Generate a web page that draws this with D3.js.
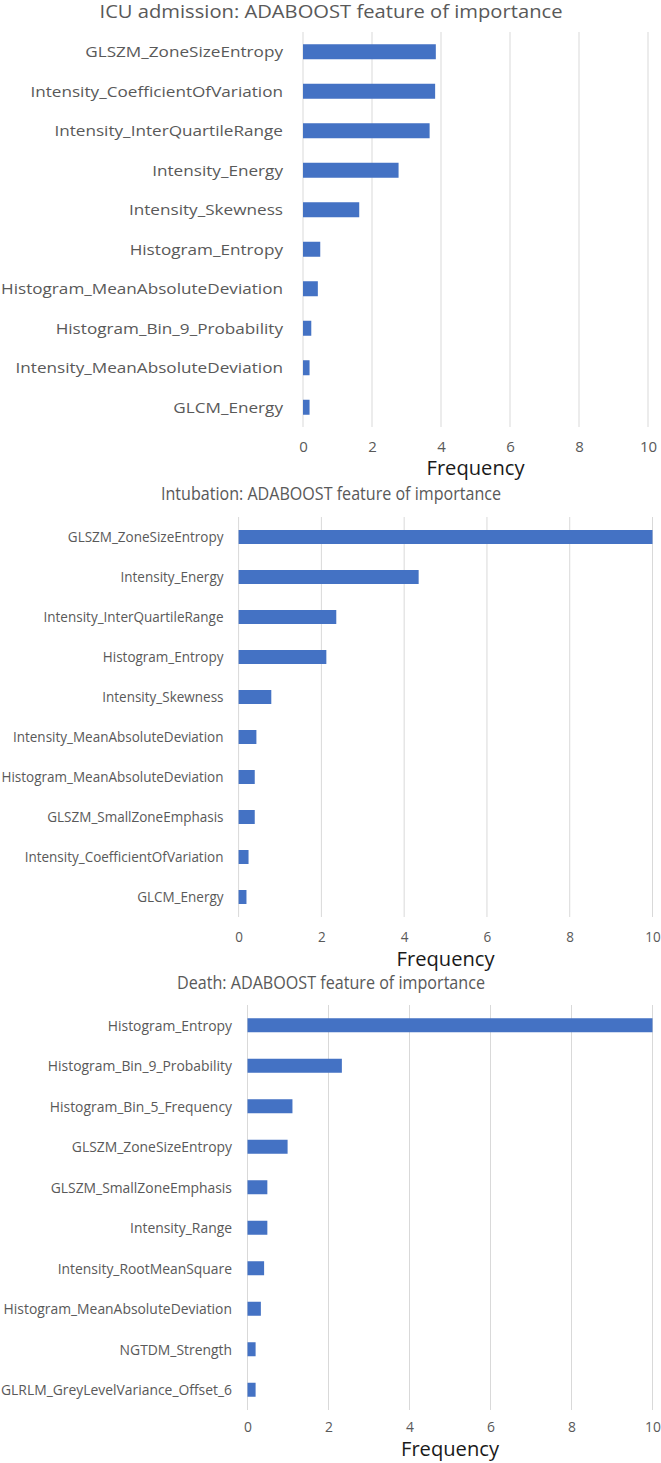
<!DOCTYPE html>
<html>
<head>
<meta charset="utf-8">
<script src="https://cdn.jsdelivr.net/npm/d3@7/dist/d3.min.js"></script>
<style>
  html, body { margin: 0; padding: 0; background: #ffffff; }
  svg { display: block; }
  text { font-family: "Open Sans", "DejaVu Sans", sans-serif; }
</style>
</head>
<body>
<svg id="chart" width="661" height="1463"></svg>
<script>
// ---------- data ----------
const icuTitle = "ICU admission: ADABOOST feature of importance";
const icuFeatures = [
  "GLSZM_ZoneSizeEntropy",
  "Intensity_CoefficientOfVariation",
  "Intensity_InterQuartileRange",
  "Intensity_Energy",
  "Intensity_Skewness",
  "Histogram_Entropy",
  "Histogram_MeanAbsoluteDeviation",
  "Histogram_Bin_9_Probability",
  "Intensity_MeanAbsoluteDeviation",
  "GLCM_Energy"
];
const icuValues = [3.85, 3.83, 3.67, 2.77, 1.63, 0.5, 0.43, 0.24, 0.19, 0.19];

const intubTitle = "Intubation: ADABOOST feature of importance";
const intubFeatures = [
  "GLSZM_ZoneSizeEntropy",
  "Intensity_Energy",
  "Intensity_InterQuartileRange",
  "Histogram_Entropy",
  "Intensity_Skewness",
  "Intensity_MeanAbsoluteDeviation",
  "Histogram_MeanAbsoluteDeviation",
  "GLSZM_SmallZoneEmphasis",
  "Intensity_CoefficientOfVariation",
  "GLCM_Energy"
];
const intubValues = [10, 4.35, 2.36, 2.12, 0.79, 0.43, 0.39, 0.39, 0.24, 0.19];

const deathTitle = "Death: ADABOOST feature of importance";
const deathFeatures = [
  "Histogram_Entropy",
  "Histogram_Bin_9_Probability",
  "Histogram_Bin_5_Frequency",
  "GLSZM_ZoneSizeEntropy",
  "GLSZM_SmallZoneEmphasis",
  "Intensity_Range",
  "Intensity_RootMeanSquare",
  "Histogram_MeanAbsoluteDeviation",
  "NGTDM_Strength",
  "GLRLM_GreyLevelVariance_Offset_6"
];
const deathValues = [10, 2.33, 1.11, 0.99, 0.49, 0.49, 0.41, 0.33, 0.2, 0.2];

const tickValues = [0, 2, 4, 6, 8, 10];
const xDomain = [0, 10];
const axisTitle = "Frequency";

// ---------- layout / style ----------
const BAR = "#4472C4", GRID = "#d9d9d9", TXT = "#595959";
const panels = [
  { title: icuTitle, features: icuFeatures, values: icuValues,
    x0: 303, x1: 648, top: 32, bottom: 427, barH: 15,
    titleY: 18, titleW: 463, labelRight: 283, labelW: 282,
    tickY: 452, freqY: 475 },
  { title: intubTitle, features: intubFeatures, values: intubValues,
    x0: 238.6, x1: 652.5, top: 517, bottom: 917, barH: 14,
    titleY: 500, titleW: 340, labelRight: 223.5, labelW: 222,
    tickY: 942, freqY: 966 },
  { title: deathTitle, features: deathFeatures, values: deathValues,
    x0: 247.5, x1: 652.5, top: 1005, bottom: 1410, barH: 14,
    titleY: 989, titleW: 308, labelRight: 232, labelW: 231,
    tickY: 1432, freqY: 1456 }
];

const svg = d3.select("#chart");

function fitWidth(sel, target) {
  sel.attr("textLength", target).attr("lengthAdjust", "spacingAndGlyphs");
}
function scaleText(sel, sx) {
  sel.each(function () {
    const w = this.getComputedTextLength();
    d3.select(this).attr("textLength", w * sx).attr("lengthAdjust", "spacingAndGlyphs");
  });
}

panels.forEach(p => {
  const g = svg.append("g");
  const x = d3.scaleLinear().domain(xDomain).range([p.x0, p.x1]);
  const n = p.features.length;
  const step = (p.bottom - p.top) / n;
  const pad = 1 - p.barH / step;
  const y = d3.scaleBand().domain(p.features).range([p.top, p.bottom])
    .paddingInner(pad).paddingOuter(pad / 2);

  // gridlines
  g.append("g").selectAll("line").data(tickValues).join("line")
    .attr("x1", d => x(d)).attr("x2", d => x(d))
    .attr("y1", p.top).attr("y2", p.bottom)
    .attr("stroke", GRID).attr("stroke-width", 1);

  // bars
  g.append("g").selectAll("rect").data(p.features).join("rect")
    .attr("x", x(0)).attr("y", d => y(d))
    .attr("width", (d, i) => x(p.values[i]) - x(0))
    .attr("height", y.bandwidth())
    .attr("fill", BAR);

  // category labels
  const labels = g.append("g").selectAll("text").data(p.features).join("text")
    .attr("x", p.labelRight).attr("y", d => y(d) + y.bandwidth() / 2)
    .attr("dy", "0.36em").attr("text-anchor", "end")
    .attr("font-size", 15).attr("fill", TXT).text(d => d);
  let maxW = 0;
  labels.each(function () { maxW = Math.max(maxW, this.getComputedTextLength()); });
  const sx = p.labelW / maxW;
  scaleText(labels, sx);

  // x axis tick labels
  const axis = d3.axisBottom(x).tickValues(tickValues).tickSize(0).tickPadding(0);
  const ax = g.append("g").attr("transform", `translate(0,${p.tickY})`).call(axis);
  ax.select(".domain").remove();
  ax.selectAll("text").attr("font-size", 15).attr("fill", TXT)
    .attr("dy", 0).attr("font-family", "'Open Sans', sans-serif");
  scaleText(ax.selectAll("text"), Math.min(1, sx));

  // axis title
  const ft = g.append("text").attr("x", (p.x0 + p.x1) / 2).attr("y", p.freqY)
    .attr("text-anchor", "middle").attr("font-size", 20).attr("fill", "#1a1a1a")
    .text(axisTitle);
  fitWidth(ft, 98);

  // chart title
  const tt = g.append("text").attr("x", 331).attr("y", p.titleY)
    .attr("text-anchor", "middle").attr("font-size", 18).attr("fill", TXT)
    .text(p.title);
  fitWidth(tt, p.titleW);
});
</script>
</body>
</html>
